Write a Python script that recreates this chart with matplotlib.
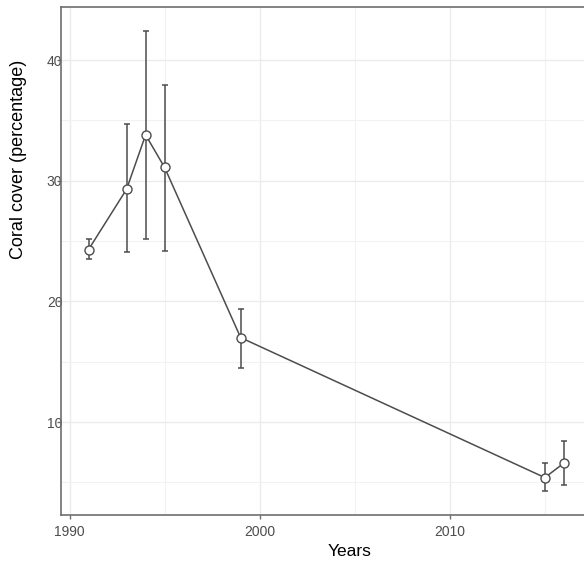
import matplotlib
matplotlib.use("Agg")
import matplotlib.pyplot as plt
from matplotlib.ticker import MultipleLocator

# valori
years = [1991, 1993, 1994, 1995, 1999, 2015, 2016]
cover = [24.3, 29.3, 33.8, 31.1, 17.0, 5.4, 6.6]
err_low = [23.5, 24.1, 25.2, 24.2, 14.5, 4.3, 4.8]
err_high = [25.2, 34.7, 42.4, 37.9, 19.4, 6.6, 8.4]

yerr = [[c - lo for c, lo in zip(cover, err_low)],
        [hi - c for c, hi in zip(cover, err_high)]]

plt.rcParams['font.family'] = ['Liberation Sans', 'DejaVu Sans']

fig = plt.figure(figsize=(5.84, 5.62), dpi=100)
ax = fig.add_axes([61 / 584, 47 / 562, 577 / 584, 508 / 562])

grey = '#4d4d4d'
ax.errorbar(years, cover, yerr=yerr, fmt='none', ecolor=grey,
            elinewidth=1.1, capsize=2.5, capthick=1.1, zorder=3)
ax.plot(years, cover, color=grey, lw=1.1, zorder=4)
ax.plot(years, cover, 'o', ms=6.5, mfc='white', mec=grey, mew=1.0, zorder=5)

ax.set_xlim(1989.55, 2019.9)
ax.set_ylim(2.3, 44.4)
ax.xaxis.set_major_locator(MultipleLocator(10))
ax.xaxis.set_minor_locator(MultipleLocator(5))
ax.yaxis.set_major_locator(MultipleLocator(10))
ax.yaxis.set_minor_locator(MultipleLocator(5))

ax.grid(which='major', color='#ebebeb', lw=1.0)
ax.grid(which='minor', color='#f2f2f2', lw=0.8)
ax.set_axisbelow(True)

for s in ax.spines.values():
    s.set_color('#6e6e6e')
    s.set_linewidth(1.2)

ax.tick_params(which='major', direction='out', length=3, width=1, color='#6e6e6e',
               labelcolor=grey, labelsize=10)
ax.tick_params(axis='x', pad=4)
ax.tick_params(axis='y', pad=-4)
ax.tick_params(which='minor', length=0)

ax.set_xlabel('Years', fontsize=12.5, color='black')
ax.set_ylabel('Coral cover (percentage)', fontsize=13, color='black')
ax.xaxis.set_label_coords((349.7 - 61) / 577, -(544 - 515) / 508)
ax.yaxis.set_label_coords(-(61 - 27) / 577, (515 - 159.5) / 508)

fig.savefig('out.png', dpi=100)
